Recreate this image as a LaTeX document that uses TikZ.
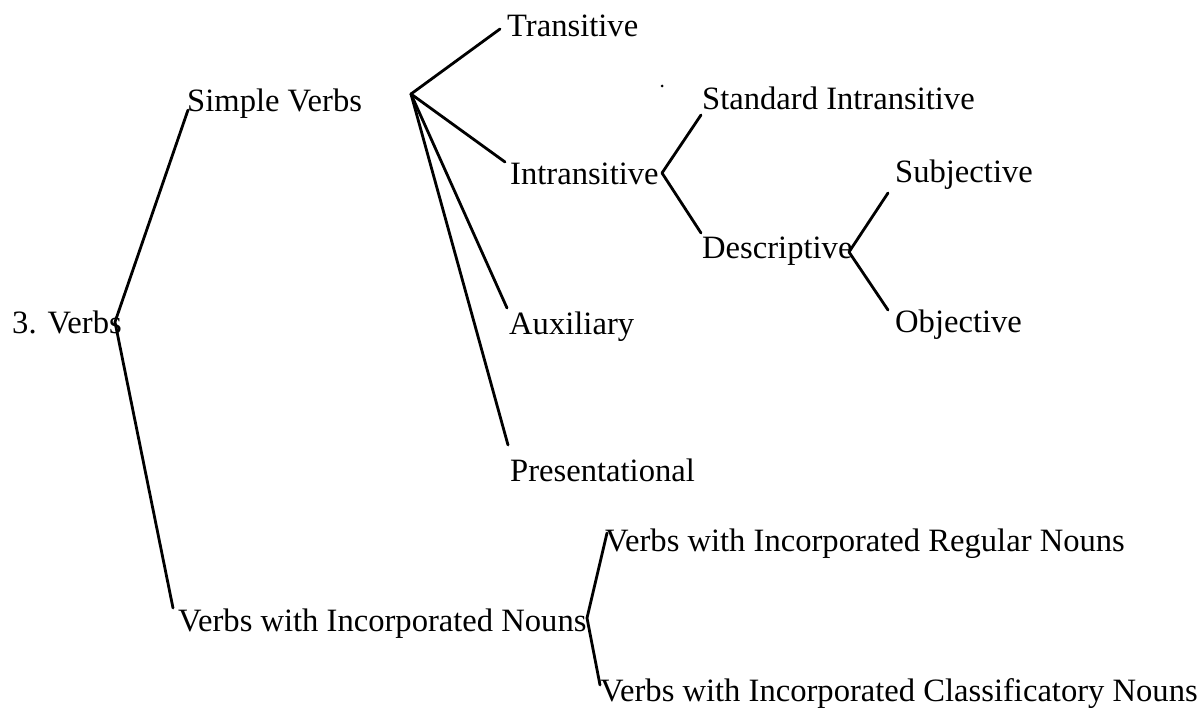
\documentclass[tikz,border=0pt]{standalone}
\usepackage{fontspec}
\setmainfont{Liberation Serif}
\usetikzlibrary{calc}
\tikzset{
  lbl/.style={anchor=base west, inner sep=0pt, font=\fontsize{32.6}{39}\selectfont},
  branch/.style={line width=2.8pt, line cap=round, line join=round}
}
\begin{document}
\begin{tikzpicture}[x=1pt,y=-1pt]
\useasboundingbox (0,0) rectangle (1200,708);
% text nodes (x = left edge, y = baseline)
\node[lbl] (verbs)  at (12,334)  {3. Verbs};
\node[lbl] (simple) at (187,112) {Simple Verbs};
\node[lbl] (nouns)  at (178,631) {Verbs with Incorporated Nouns};
\node[lbl] (trans)  at (507,37)  {Transitive};
\node[lbl] (intr)   at (510,185) {Intransitive};
\node[lbl] (aux)    at (509,335) {Auxiliary};
\node[lbl] (pres)   at (510,482) {Presentational};
\node[lbl] (std)    at (702,110) {Standard Intransitive};
\node[lbl] (desc)   at (702,259) {Descriptive};
\node[lbl] (subj)   at (895,183) {Subjective};
\node[lbl] (obj)    at (895,333) {Objective};
\node[lbl] (reg)    at (605,551) {Verbs with Incorporated Regular Nouns};
\node[lbl] (cls)    at (600,701) {Verbs with Incorporated Classificatory Nouns};
% branching points
\coordinate (j0) at (115,322);
\coordinate (j1) at (411,94);
\coordinate (j2) at (662,173);
\coordinate (j3) at (849,252);
\coordinate (j4) at (587,618);
% connectors
\draw[branch] ($(simple.base west)+(1,-2)$) -- (j0) -- ($(nouns.base west)+(-5,-23)$);
\draw[branch] ($(trans.base west)+(-7,-8)$) -- (j1) -- ($(intr.base west)+(-5,-23)$);
\draw[branch] (j1) -- ($(aux.base west)+(-2,-27)$);
\draw[branch] (j1) -- ($(pres.base west)+(-2,-37)$);
\draw[branch] ($(std.base west)+(-1,5)$) -- (j2) -- ($(desc.base west)+(-1,-26)$);
\draw[branch] ($(subj.base west)+(-7,10)$) -- (j3) -- ($(obj.base west)+(-7,-23)$);
\draw[branch] ($(reg.base west)+(2,-18)$) -- (j4) -- ($(cls.base west)+(0,-16)$);
% stray speck
\fill (662,86) circle (1.5);
\end{tikzpicture}
\end{document}
